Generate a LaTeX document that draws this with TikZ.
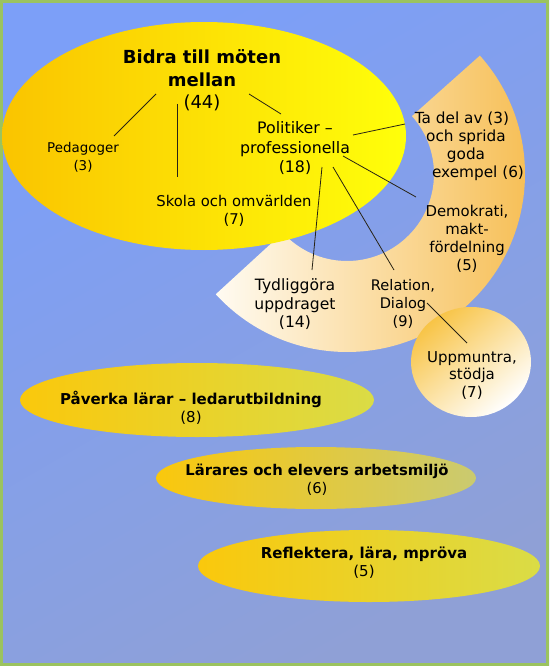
\documentclass[tikz,border=0pt]{standalone}
\usepackage{fontspec}
\setmainfont{DejaVu Sans}
\usetikzlibrary{calc}
\definecolor{bgA}{RGB}{124,159,248}
\definecolor{bgB}{RGB}{143,160,214}
\definecolor{frameG}{RGB}{155,195,95}
\definecolor{ylA}{RGB}{250,196,0}
\definecolor{ylB}{RGB}{255,255,10}
\definecolor{ringA}{RGB}{255,251,242}
\definecolor{ringB}{RGB}{246,188,78}
\definecolor{circA}{RGB}{248,196,70}
\definecolor{ovA}{RGB}{250,200,12}
\definecolor{ovB}{RGB}{218,220,70}
\definecolor{ovC}{RGB}{202,202,112}
\definecolor{lineC}{RGB}{40,35,20}
\begin{document}
\begin{tikzpicture}[x=1pt,y=1pt,
  txt/.style={align=center,inner sep=0pt,text=black},
  conn/.style={draw=lineC,line width=0.8pt},
  oval/.style={left color=ovA,right color=ovB}]
\useasboundingbox (0,0) rectangle (549,-666);
% background
\shade[top color=bgA,bottom color=bgB,shading angle=30] (0,0) rectangle (549,-666);
\draw[frameG,line width=3pt] (1.5,-1.5) rectangle (547.5,-664.5);
% ring (block arc)
\shade[left color=ringA,right color=ringB]
  ($(347,-174)+(41.7:178)$) arc[start angle=41.7,end angle=-137.5,radius=178]
  -- ($(347,-174)+(-137.5:87)$) arc[start angle=-137.5,end angle=41.7,radius=87] -- cycle;
% small circle
\shade[top color=circA,bottom color=white,shading angle=40] (471,-362) ellipse[x radius=60,y radius=55];
% big ellipse
\shade[left color=ylA,right color=ylB] (204,-136) ellipse[x radius=202,y radius=114];
% lower ovals
\shade[oval] (197,-400) ellipse[x radius=177,y radius=37];
\shade[left color=ovA,right color=ovC] (316,-478) ellipse[x radius=160,y radius=31];
\shade[oval] (369,-566) ellipse[x radius=171,y radius=36];

% texts
\node[txt,font=\fontsize{18}{22.5}\selectfont] (bidra) at (202,-80.5)
  {\bfseries Bidra till möten\\\bfseries mellan\\\mdseries (44)};
\node[txt,font=\fontsize{13.4}{18}\selectfont] (ped) at (83,-157) {Pedagoger\\(3)};
\node[txt,font=\fontsize{14.8}{18}\selectfont] (skola) at (234,-211) {Skola och omvärlden\\(7)};
\node[txt,font=\fontsize{15.8}{19.5}\selectfont] (pol) at (295,-148.5) {Politiker –\\professionella\\(18)};
\node[txt,font=\fontsize{15.3}{18}\selectfont] (tadel) at (466,-146)
  {Ta del av (3)\hspace*{8pt}\\och sprida\\goda\\\hspace*{24pt}exempel (6)};
\node[txt,font=\fontsize{14.9}{18}\selectfont] (demo) at (467,-239) {Demokrati,\\makt-\\fördelning\\(5)};
\node[txt,font=\fontsize{15.6}{18.5}\selectfont] (tyd) at (295,-304.5) {Tydliggöra\\uppdraget\\(14)};
\node[txt,font=\fontsize{14.6}{18}\selectfont] (rel) at (403,-304) {Relation,\\Dialog\\(9)};
\node[txt,font=\fontsize{15}{17.5}\selectfont] (upp) at (472,-375.5) {Uppmuntra,\\stödja\\(7)};
\node[txt,font=\fontsize{15}{18}\selectfont] (pav) at (191,-408)
  {\bfseries Påverka lärar – ledarutbildning\\\mdseries (8)};
\node[txt,font=\fontsize{14.8}{18}\selectfont] (lar) at (317,-480)
  {\bfseries Lärares och elevers arbetsmiljö\\\mdseries (6)};
\node[txt,font=\fontsize{15}{18}\selectfont] (ref) at (364,-563)
  {\bfseries Reflektera, lära, mpröva\\\mdseries (5)};

% connectors
\draw[conn] ($(bidra)+(-46,-13.5)$) -- ($(ped)+(31,21)$);
\draw[conn] ($(bidra)+(-25,-23.5)$) -- ($(skola)+(-57,34)$);
\draw[conn] ($(bidra)+(47,-13.5)$) -- ($(pol)+(-14,34.5)$);
\draw[conn] ($(pol)+(58,13.5)$) -- ($(tadel)+(-61,22)$);
\draw[conn] ($(pol)+(48,-7.5)$) -- ($(demo)+(-51,42)$);
\draw[conn] ($(pol)+(27,-18.5)$) -- ($(tyd)+(17,34.5)$);
\draw[conn] ($(pol)+(38,-18.5)$) -- ($(rel)+(-9,34)$);
\draw[conn] ($(rel)+(24,1)$) -- ($(upp)+(-5,32.5)$);
\end{tikzpicture}
\end{document}
